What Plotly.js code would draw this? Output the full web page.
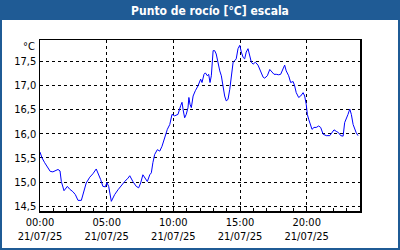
<!DOCTYPE html>
<html>
<head>
<meta charset="utf-8">
<script src="https://cdn.plot.ly/plotly-3.0.1.min.js"></script>
<style>
html,body{margin:0;padding:0;background:#fff;}
#chart{width:400px;height:250px;}
</style>
</head>
<body>
<div id="chart"></div>
<script>
// Day of the readings
var day = "2025-07-21";
// Times of the readings (HH:MM)
var times = ["00:00","00:09","00:21","00:36","00:46","00:58","01:09","01:21","01:30","01:36","01:48","02:03","02:14","02:28","02:39","02:51","03:06","03:13","03:28","03:44","03:58","04:13","04:21","04:33","04:43","04:54","05:01","05:09","05:21","05:36","05:51","06:06","06:21","06:36","06:44","06:58","07:13","07:24","07:33","07:43","07:54","08:03","08:14","08:21","08:28","08:36","08:48","08:59","09:09","09:21","09:33","09:44","09:54","10:06","10:21","10:33","10:39","10:45","10:51","10:58","11:06","11:10","11:15","11:21","11:29","11:39","11:51","12:03","12:09","12:18","12:24","12:33","12:39","12:45","12:51","12:59","13:06","13:13","13:21","13:29","13:36","13:44","13:51","13:58","14:06","14:14","14:21","14:29","14:36","14:43","14:51","14:59","15:06","15:14","15:21","15:28","15:36","15:44","15:51","15:59","16:09","16:21","16:33","16:44","16:51","17:03","17:14","17:21","17:33","17:43","17:54","18:03","18:14","18:21","18:28","18:39","18:48","18:59","19:06","19:13","19:24","19:33","19:44","19:51","19:58","20:03","20:09","20:16","20:24","20:33","20:43","20:54","21:03","21:14","21:28","21:44","21:54","22:03","22:13","22:24","22:33","22:44","22:51","22:58","23:06","23:14","23:21","23:29","23:36","23:43","23:51"];
// Dew point values (°C)
var dewPoint = [15.62,15.50,15.40,15.29,15.22,15.21,15.24,15.26,15.23,15.01,14.82,14.91,14.85,14.80,14.74,14.62,14.62,14.74,14.98,15.10,15.17,15.27,15.19,15.05,14.91,14.90,14.99,14.91,14.60,14.74,14.84,14.93,15.01,15.08,15.13,15.01,14.91,14.88,14.98,15.15,15.08,15.01,15.15,15.19,15.40,15.57,15.67,15.64,15.74,15.92,16.09,16.19,16.40,16.37,16.40,16.58,16.65,16.47,16.33,16.40,16.54,16.75,16.61,16.54,16.78,16.89,16.99,17.13,17.06,17.23,17.26,17.20,17.23,17.06,17.20,17.72,17.72,17.65,17.44,17.30,17.20,16.96,16.78,16.68,16.71,16.92,17.20,17.48,17.51,17.55,17.76,17.83,17.69,17.58,17.55,17.69,17.76,17.58,17.48,17.44,17.48,17.42,17.27,17.17,17.15,17.20,17.33,17.30,17.23,17.23,17.22,17.23,17.34,17.42,17.30,17.20,17.06,17.08,16.99,16.85,16.75,16.78,16.85,16.78,16.61,16.40,16.30,16.19,16.09,16.13,16.13,16.16,16.13,15.99,15.96,15.96,16.03,16.08,16.05,16.02,15.96,15.95,16.23,16.30,16.40,16.51,16.40,16.19,16.09,16.02,15.96];
var titleText = "Punto de rocío [°C] escala";
var unitLabel = "°C";

var xs = times.map(function(t){ return day + " " + t; });
var blue = "#1f5b95";
var font = "'DejaVu Sans Condensed', 'Liberation Sans', sans-serif";

var trace = {
  x: xs, y: dewPoint, type: "scatter", mode: "lines",
  line: {color: "#0000ff", width: 1}, hoverinfo: "skip"
};

// pixel helpers for paper coords (plot area 40..360 x, 40..211 y)
function px(x){ return (x - 40) / 320; }
function py(y){ return (211 - y) / 171; }

var layout = {
  width: 400, height: 250,
  margin: {l: 40, r: 40, t: 40, b: 39},
  paper_bgcolor: "#ffffff", plot_bgcolor: "#ffffff",
  separators: ",.",
  showlegend: false,
  font: {family: font, size: 11, color: "#000"},
  title: {
    text: "<b>" + titleText + "</b>",
    font: {family: font, size: 12, color: "#ffffff"},
    x: px(210), xref: "paper", xanchor: "center",
    y: 1 - 10.5/250, yref: "container", yanchor: "middle"
  },
  xaxis: {
    type: "date",
    range: [day + " 00:00", "2025-07-22 00:00"],
    tick0: day + " 00:00", dtick: 5*3600000,
    tickformat: "%H:%M<br>%d/%m/%y",
    ticks: "inside", ticklen: 4, tickcolor: "#000",
    showgrid: true, gridcolor: "#000", griddash: "3px,3px", gridwidth: 1,
    showline: true, linecolor: "#000", linewidth: 1.5, mirror: true,
    minor: {dtick: 3600000, ticks: "inside", ticklen: 3, tickcolor: "#000", showgrid: false},
    tickfont: {family: font, size: 11, color: "#000"},
    fixedrange: true
  },
  yaxis: {
    range: [14.4, 17.94],
    tick0: 14.5, dtick: 0.5, tickformat: ".1f",
    ticks: "", 
    showgrid: true, gridcolor: "#000", griddash: "3px,3px", gridwidth: 1,
    showline: true, linecolor: "#000", linewidth: 1.5, mirror: true,
    zeroline: false,
    tickfont: {family: font, size: 11, color: "#000"},
    fixedrange: true
  },
  shapes: [
    {type: "rect", xref: "paper", yref: "paper", layer: "below",
     x0: px(0), x1: px(400), y0: py(20), y1: py(0),
     fillcolor: blue, line: {width: 0}},
    {type: "rect", xref: "paper", yref: "paper", layer: "above",
     x0: px(1), x1: px(399), y0: py(249), y1: py(1),
     fillcolor: "rgba(0,0,0,0)", line: {color: blue, width: 2}}
  ],
  annotations: [
    {text: unitLabel, xref: "paper", yref: "paper", x: px(37), y: py(46),
     xanchor: "right", yanchor: "middle", showarrow: false,
     font: {family: font, size: 11, color: "#000"}}
  ]
};

Plotly.newPlot("chart", [trace], layout, {staticPlot: true, displayModeBar: false});
</script>
</body>
</html>
